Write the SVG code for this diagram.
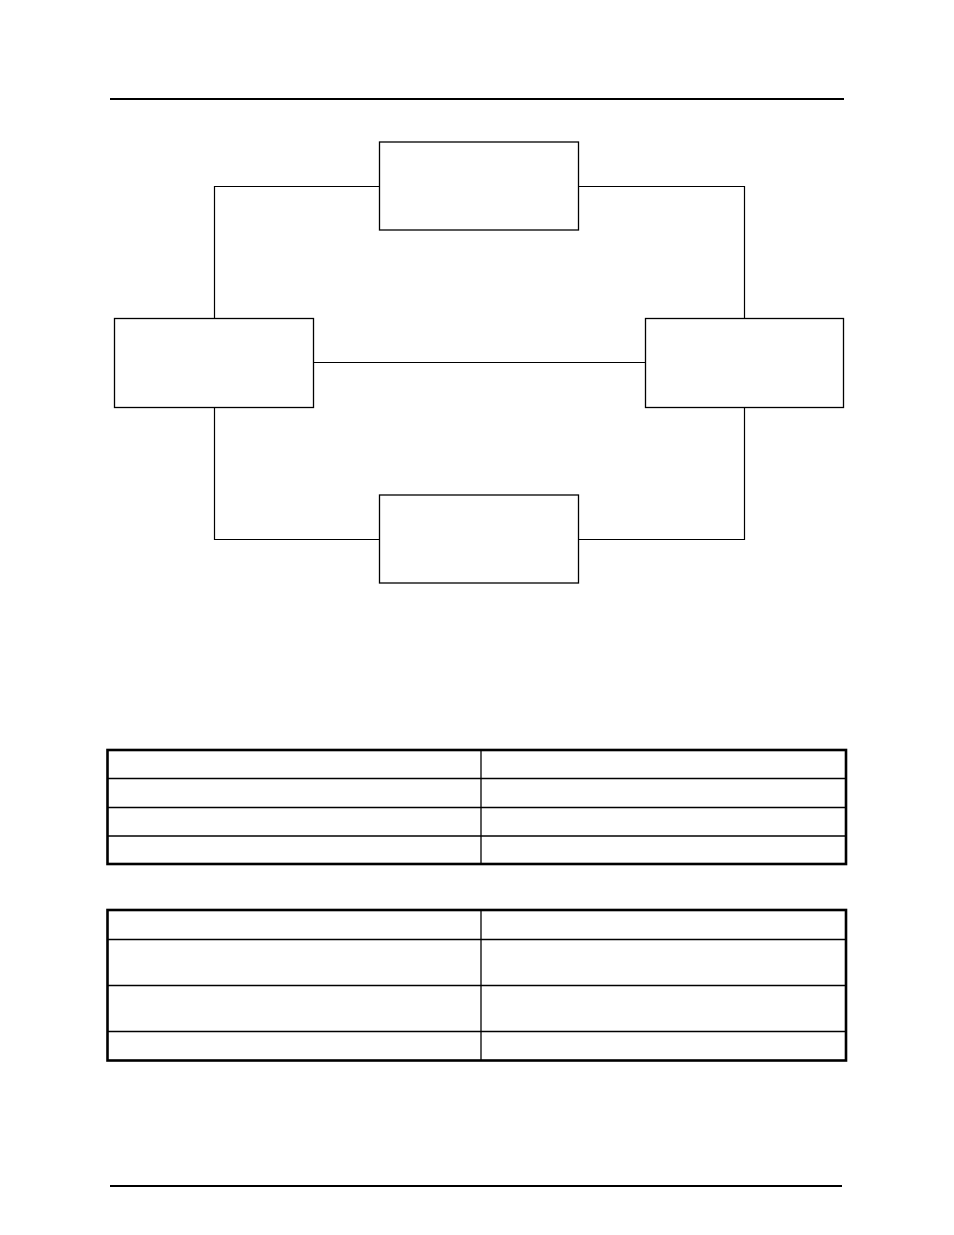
<svg xmlns="http://www.w3.org/2000/svg" width="954" height="1235" viewBox="0 0 954 1235">
<style>
.node{fill:#fff;stroke:#000;stroke-width:1.3}
.conn{fill:none;stroke:#000;stroke-width:1.2}
.rule{stroke:#000;stroke-width:2}
.tout{fill:none;stroke:#000;stroke-width:2.6}
.tin{stroke:#000;stroke-width:1.3}
</style>
<rect width="954" height="1235" fill="#fff"/>
<line class="rule" x1="110" y1="99" x2="844" y2="99"/>
<g id="connectors">
<polyline class="conn" points="379.5,186.5 214.5,186.5 214.5,318.5"/>
<polyline class="conn" points="578.5,186.5 744.5,186.5 744.5,318.5"/>
<line class="conn" x1="313.5" y1="362.5" x2="645.5" y2="362.5"/>
<polyline class="conn" points="214.5,407.5 214.5,539.5 379.5,539.5"/>
<polyline class="conn" points="744.5,407.5 744.5,539.5 578.5,539.5"/>
</g>
<g id="node-top"><rect class="node" x="379.5" y="142" width="199" height="88"/></g>
<g id="node-left"><rect class="node" x="114.5" y="318.5" width="199" height="89"/></g>
<g id="node-right"><rect class="node" x="645.5" y="318.5" width="198" height="89"/></g>
<g id="node-bottom"><rect class="node" x="379.5" y="495" width="199" height="88"/></g>
<g id="table1">
<line class="tin" x1="481" y1="750" x2="481" y2="864"/>
<line class="tin" x1="107" y1="778.5" x2="846" y2="778.5"/>
<line class="tin" x1="107" y1="807.5" x2="846" y2="807.5"/>
<line class="tin" x1="107" y1="836" x2="846" y2="836"/>
<rect class="tout" x="107.5" y="750" width="738.5" height="114"/>
</g>
<g id="table2">
<line class="tin" x1="481" y1="910" x2="481" y2="1060"/>
<line class="tin" x1="107" y1="939.5" x2="846" y2="939.5"/>
<line class="tin" x1="107" y1="985.5" x2="846" y2="985.5"/>
<line class="tin" x1="107" y1="1031.5" x2="846" y2="1031.5"/>
<rect class="tout" x="107.5" y="910" width="738.5" height="150.5"/>
</g>
<line class="rule" x1="110" y1="1186" x2="842" y2="1186"/>
</svg>
